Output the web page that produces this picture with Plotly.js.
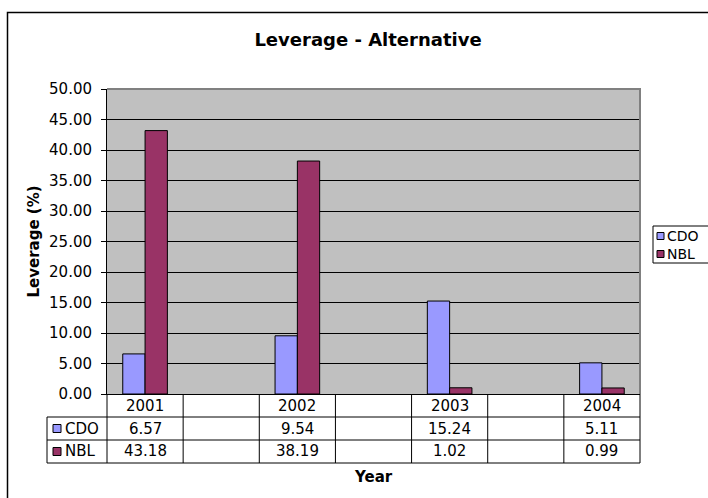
<!DOCTYPE html>
<html>
<head>
<meta charset="utf-8">
<script src="https://cdn.plot.ly/plotly-3.0.1.min.js"></script>
<style>
  html, body { margin: 0; padding: 0; background: #ffffff; }
  #chart { width: 708px; height: 498px; }
</style>
</head>
<body>
<div id="chart"></div>
<script>
// ---- data ----
const years = ['2001', '2002', '2003', '2004'];
const seriesNames = ['CDO', 'NBL'];
const cdoValues = [6.57, 9.54, 15.24, 5.11];
const nblValues = [43.18, 38.19, 1.02, 0.99];
const yTickValues = [0, 5, 10, 15, 20, 25, 30, 35, 40, 45, 50];

const seriesValues = [cdoValues, nblValues];
const seriesColors = ['#9999FF', '#993366'];

// ---- page geometry (pixels) ----
const W = 708, H = 498;
const PLOT_L = 107, PLOT_R = 640, PLOT_T = 89, PLOT_B = 394;
const ROW_H = 23;                 // data-table row height
const TABLE_LEFT = 47;            // left edge of the series-label column
const SLOTS = 7;                  // each year is followed by an empty spacer column
const BAR_W = 0.293;              // bar width in slot units
const FONT = 'DejaVu Sans, Verdana, sans-serif';

const px = v => (v - PLOT_L) / (PLOT_R - PLOT_L);   // pixel x -> paper x
const py = v => (PLOT_B - v) / (PLOT_B - PLOT_T);   // pixel y -> paper y

// year i sits in slot 2*i
const slotOf = i => 2 * i;
const xPos = years.map((_, i) => slotOf(i));

// ---- bars ----
const traces = seriesNames.map((name, s) => ({
  type: 'bar',
  name: name,
  x: xPos,
  y: seriesValues[s],
  width: BAR_W,
  offset: s === 0 ? -BAR_W : 0,
  marker: { color: seriesColors[s], line: { color: '#000000', width: 1 } },
  showlegend: false,
  hoverinfo: 'skip'
}));

// ---- data table, legend and frame ----
const shapes = [];
const annotations = [];
const line = (x0, y0, x1, y1, color, width) => shapes.push({
  type: 'line', xref: 'paper', yref: 'paper',
  x0: px(x0), y0: py(y0), x1: px(x1), y1: py(y1),
  line: { color: color, width: width }
});

// outer chart frame
shapes.push({
  type: 'rect', xref: 'paper', yref: 'paper',
  x0: px(7.5), y0: py(12.5), x1: px(720), y1: py(520),
  line: { color: '#000000', width: 1.5 }, fillcolor: 'rgba(0,0,0,0)'
});

// plot-area top / right edge
line(PLOT_L, PLOT_T, PLOT_R + 1, PLOT_T, '#808080', 2);
line(PLOT_R, PLOT_T, PLOT_R, PLOT_B, '#808080', 2);

const slotPx = (PLOT_R - PLOT_L) / SLOTS;
const rowTop = r => PLOT_B + r * ROW_H;
const tableBottom = rowTop(seriesNames.length + 1);

// horizontal rules of the table
for (let r = 1; r <= seriesNames.length + 1; r++) {
  line(TABLE_LEFT, rowTop(r), PLOT_R, rowTop(r), '#000000', 1);
}
// vertical rules
line(TABLE_LEFT, rowTop(1), TABLE_LEFT, tableBottom, '#000000', 1);
for (let k = 0; k <= SLOTS; k++) {
  const x = PLOT_L + k * slotPx;
  line(x, PLOT_B, x, tableBottom, '#000000', 1);
}

const tableFont = { family: FONT, size: 15, color: '#000000' };

// year header row
years.forEach((yr, i) => annotations.push({
  xref: 'x', yref: 'paper', x: slotOf(i), y: py(rowTop(0) + ROW_H / 2),
  text: yr, showarrow: false, font: tableFont, xanchor: 'center', yanchor: 'middle'
}));

// value rows with series keys
seriesNames.forEach((name, s) => {
  const cy = rowTop(s + 1) + ROW_H / 2;
  shapes.push({
    type: 'rect', xref: 'paper', yref: 'paper',
    x0: px(TABLE_LEFT + 6), x1: px(TABLE_LEFT + 14), y0: py(cy - 4), y1: py(cy + 4),
    fillcolor: seriesColors[s], line: { color: '#000000', width: 1 }
  });
  annotations.push({
    xref: 'paper', yref: 'paper', x: px(TABLE_LEFT + 16), y: py(cy),
    text: name, showarrow: false, font: tableFont, xanchor: 'left', yanchor: 'middle'
  });
  seriesValues[s].forEach((v, i) => annotations.push({
    xref: 'x', yref: 'paper', x: slotOf(i), y: py(cy),
    text: v.toFixed(2), showarrow: false, font: tableFont, xanchor: 'center', yanchor: 'middle'
  }));
});

// legend box
const LEG_L = 653, LEG_T = 226, LEG_ROW = 18;
shapes.push({
  type: 'rect', xref: 'paper', yref: 'paper',
  x0: px(LEG_L), x1: px(730), y0: py(LEG_T), y1: py(LEG_T + LEG_ROW * seriesNames.length + 1),
  line: { color: '#000000', width: 1 }, fillcolor: '#ffffff', layer: 'below'
});
seriesNames.forEach((name, s) => {
  const cy = LEG_T + LEG_ROW * s + LEG_ROW / 2 + 1;
  shapes.push({
    type: 'rect', xref: 'paper', yref: 'paper',
    x0: px(LEG_L + 4), x1: px(LEG_L + 11), y0: py(cy - 3.5), y1: py(cy + 3.5),
    fillcolor: seriesColors[s], line: { color: '#000000', width: 1 }
  });
  annotations.push({
    xref: 'paper', yref: 'paper', x: px(LEG_L + 12), y: py(cy),
    text: name, showarrow: false, font: { family: FONT, size: 14, color: '#000000' },
    xanchor: 'left', yanchor: 'middle'
  });
});

// axis titles
annotations.push({
  xref: 'paper', yref: 'paper', x: px(33), y: py((PLOT_T + PLOT_B) / 2),
  text: '<b>Leverage (%)</b>', textangle: -90, showarrow: false,
  font: { family: FONT, size: 15, color: '#000000' }, xanchor: 'center', yanchor: 'middle'
});
annotations.push({
  xref: 'paper', yref: 'paper', x: px((PLOT_L + PLOT_R) / 2), y: py(477),
  text: '<b>Year</b>', showarrow: false,
  font: { family: FONT, size: 15, color: '#000000' }, xanchor: 'center', yanchor: 'middle'
});

const layout = {
  width: W, height: H,
  margin: { l: PLOT_L, r: W - PLOT_R, t: PLOT_T, b: H - PLOT_B, pad: 0 },
  paper_bgcolor: '#ffffff',
  plot_bgcolor: '#C0C0C0',
  barmode: 'overlay',
  title: {
    text: '<b>Leverage - Alternative</b>',
    font: { family: FONT, size: 18, color: '#000000' },
    xref: 'container', yref: 'container',
    x: 368 / W, xanchor: 'center', y: 1 - 40 / H, yanchor: 'middle'
  },
  xaxis: {
    type: 'linear', range: [-0.5, SLOTS - 0.5],
    showticklabels: false, ticks: '', showgrid: false, zeroline: false,
    showline: true, linecolor: '#000000', linewidth: 1, fixedrange: true
  },
  yaxis: {
    range: [0, 50], tickvals: yTickValues,
    ticktext: yTickValues.map(v => v.toFixed(2)),
    ticks: 'outside', ticklen: 5, tickcolor: '#000000', tickwidth: 1,
    ticklabelstandoff: 6,
    tickfont: { family: FONT, size: 15, color: '#000000' },
    showgrid: true, gridcolor: '#000000', gridwidth: 1,
    zeroline: false, showline: true, linecolor: '#000000', linewidth: 1,
    fixedrange: true
  },
  shapes: shapes,
  annotations: annotations,
  showlegend: false
};

Plotly.newPlot('chart', traces, layout, { displayModeBar: false, staticPlot: true });
</script>
</body>
</html>
